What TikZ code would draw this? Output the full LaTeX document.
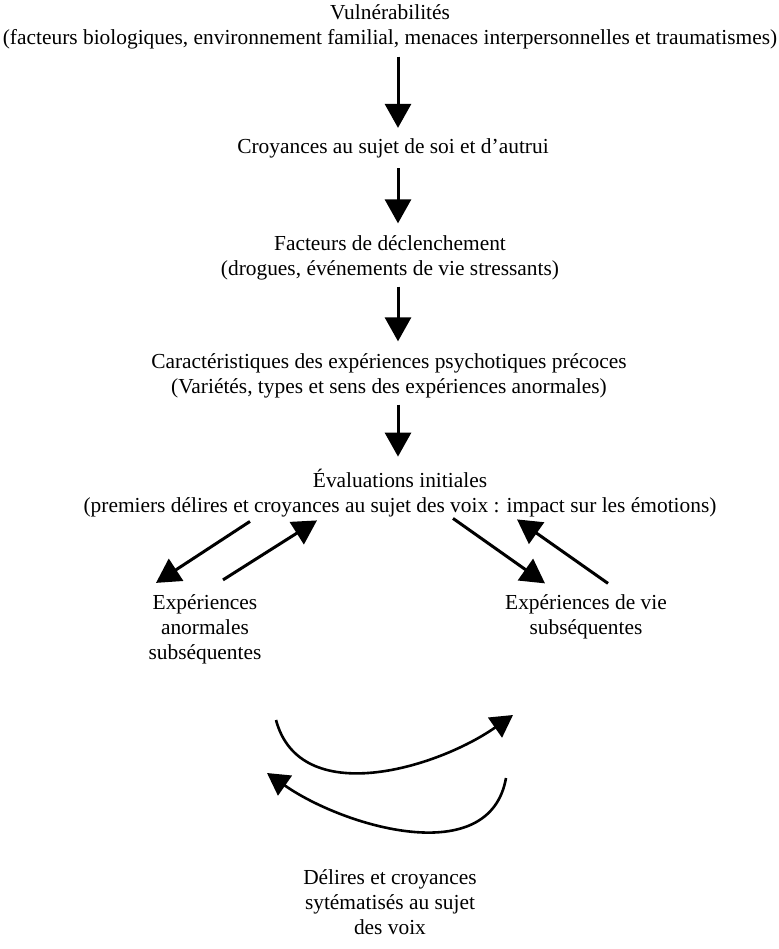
\documentclass[tikz,border=0pt]{standalone}
\usepackage{fontspec}
\setmainfont{Liberation Serif}
\usetikzlibrary{arrows.meta}

\begin{document}
\begin{tikzpicture}[x=0.5pt,y=-0.5pt]
    \tikzset{
        box/.style={align=center,inner sep=0pt,font=\fontsize{10.7}{12.5}\selectfont},
        flow/.style={line width=1.5pt,-{Triangle[length=12pt,width=13pt]}},
        % down/.style={shorten <=3pt,shorten >=5pt},
        loop/.style={line width=1.3pt,-{Triangle[length=11pt,width=12pt]}}
    }
    \useasboundingbox (0,0) rectangle (779,949);

    \node[box] (vuln)  at (390,27)  {Vulnérabilités\\(facteurs biologiques, environnement familial, menaces interpersonnelles et traumatismes)};
    \node[box] (croy)  at (393,148) {Croyances au sujet de soi et d'autrui};
    \node[box] (fact)  at (390,258) {Facteurs de déclenchement\\(drogues, événements de vie stressants)};
    \node[box] (carac) at (389,376) {Caractéristiques des expériences psychotiques précoces\\(Variétés, types et sens des expériences anormales)};
    \node[box] (eval)  at (400,493) {Évaluations initiales\\(premiers délires et croyances au sujet des voix : impact sur les émotions)};
    \node[box] (anorm) at (205,629) {Expériences\\anormales\\subséquentes};
    \node[box] (vie)   at (586,617) {Expériences de vie\\subséquentes};
    \node[box] (delir) at (390,902) {Délires et croyances\\sytématisés au sujet\\des voix};

    \draw[flow] ([xshift=4pt]vuln.south)  ++(0,7) -- ([xshift=2.5pt,yshift=5pt]croy.north);
    \draw[flow] ([xshift=2.5pt,yshift=-5pt]croy.south) -- ([xshift=4pt,yshift=6pt]fact.north);
    \draw[flow] ([xshift=4pt,yshift=-3pt]fact.south) -- ([xshift=4.5pt,yshift=6pt]carac.north);
    \draw[flow] ([xshift=4.5pt,yshift=-3pt]carac.south) -- ([xshift=-1pt,yshift=6pt]eval.north);

    \draw[flow] ([shift={(-150,4)}]eval.south) -- ([shift={(-49,-11)}]anorm.north);
    \draw[flow] ([shift={(18,-14)}]anorm.north) -- ([shift={(-83,3)}]eval.south);
    \draw[flow] ([shift={(53,1)}]eval.south) -- ([shift={(-41,-11)}]vie.north);
    \draw[flow] ([shift={(22,-11)}]vie.north) -- ([shift={(117,2)}]eval.south);

    \coordinate (c1) at (276,720);
    \coordinate (c2) at (513,715);
    \coordinate (c3) at (506,778);
    \coordinate (c4) at (267,773);
    \draw[loop] (c1) to[out=-75,in=-145] (c2);
    \draw[loop] (c3) to[out=-100,in=-35] (c4);
\end{tikzpicture}
\end{document}
